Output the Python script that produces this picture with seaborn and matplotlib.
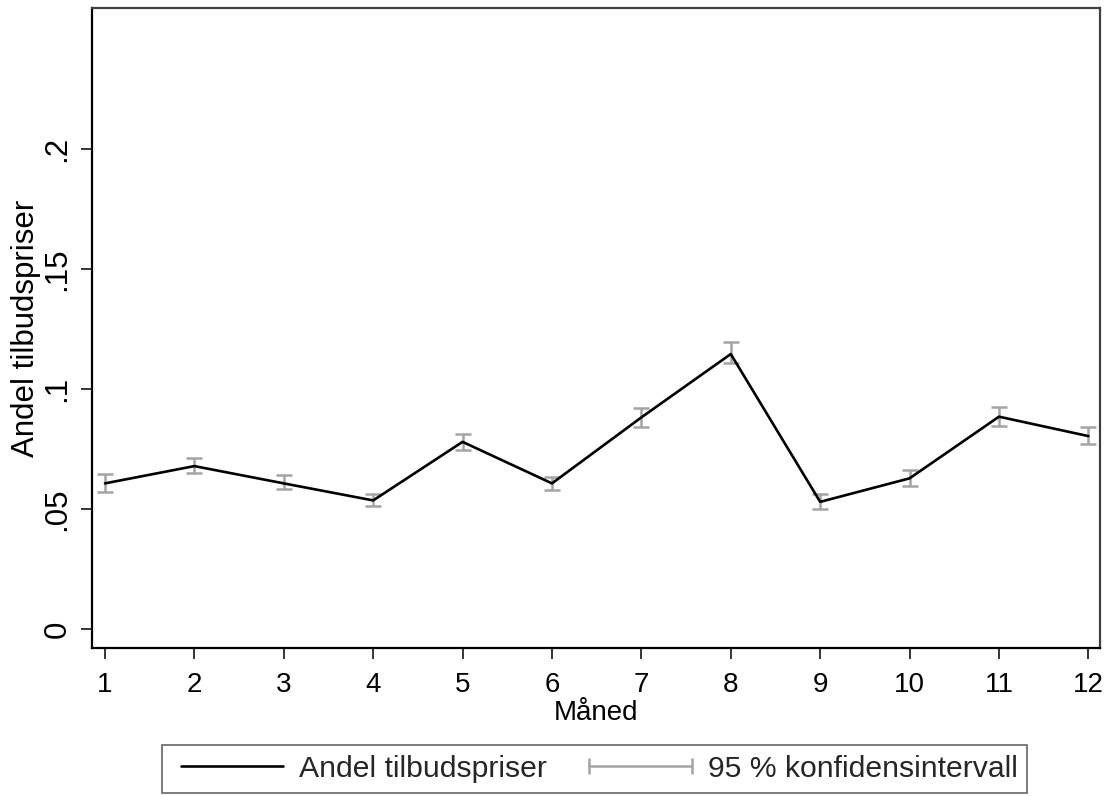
import numpy as np
import pandas as pd
import seaborn as sns
import matplotlib
matplotlib.use("Agg")
import matplotlib.pyplot as plt
from matplotlib.lines import Line2D

# --- data ---
maaned = list(range(1, 13))
andel = [0.0607, 0.0679, 0.0607, 0.0536, 0.0780, 0.0607, 0.0882, 0.1146, 0.0530, 0.0628, 0.0885, 0.0804]
ci_lo = [0.0572, 0.0651, 0.0582, 0.0513, 0.0746, 0.0580, 0.0842, 0.1107, 0.0499, 0.0596, 0.0847, 0.0771]
ci_hi = [0.0646, 0.0713, 0.0640, 0.0563, 0.0814, 0.0635, 0.0922, 0.1197, 0.0563, 0.0663, 0.0926, 0.0843]
y_ticks = [0, 0.05, 0.1, 0.15, 0.2]
y_ticklabels = ["0", ".05", ".1", ".15", ".2"]

df = pd.DataFrame({"Måned": maaned, "andel": andel, "lo": ci_lo, "hi": ci_hi})

sns.set_theme(style="ticks")
plt.rcParams["font.family"] = ["Liberation Sans", "DejaVu Sans"]
fs = 20        # x ticks / x label
fs_leg = 21.7  # legend text
fs_rot = 22.5  # rotated text looks stretched in the original

fig = plt.figure(figsize=(11.04, 7.96), dpi=100)
ax = fig.add_axes([92 / 1104, 1 - 648 / 796, 1008 / 1104, 640 / 796])

# confidence interval caps (grey)
err = np.array([df["andel"] - df["lo"], df["hi"] - df["andel"]])
ax.errorbar(df["Måned"], df["andel"], yerr=err, fmt="none", ecolor="#a4a4a4",
            elinewidth=1.8, capsize=5.5, capthick=1.8, zorder=2)

# the line itself
sns.lineplot(data=df, x="Måned", y="andel", color="black", linewidth=1.9,
             ax=ax, zorder=3, legend=False)

ax.set_xlim(0.855, 12.13)
ax.set_ylim(-0.0079, 0.2588)
ax.set_xticks(maaned)
ax.set_xticklabels([str(m) for m in maaned], fontsize=fs)
ax.set_yticks(y_ticks)
ax.set_yticklabels(y_ticklabels, fontsize=fs_rot, rotation=90, va="center")
ax.tick_params(axis="both", direction="out", length=8, width=1.1, color="black",
               labelcolor="black")
ax.tick_params(axis="x", pad=9)
ax.tick_params(axis="y", pad=6)
ax.set_xlabel("Måned", fontsize=fs, labelpad=2, color="black")
ax.set_ylabel("Andel tilbudspriser", fontsize=fs_rot, labelpad=1, color="black")

for side in ["left", "bottom"]:
    ax.spines[side].set_color("black")
    ax.spines[side].set_linewidth(1.6)
for side in ["top", "right"]:
    ax.spines[side].set_visible(True)
    ax.spines[side].set_color("#404040")
    ax.spines[side].set_linewidth(1.6)

handles = [
    Line2D([], [], color="black", linewidth=1.9),
    Line2D([], [], color="#a4a4a4", linewidth=1.8, marker="|", markersize=12,
           markeredgewidth=1.8),
]
labels = ["Andel tilbudspriser", "95 % konfidensintervall"]
leg = fig.legend(handles, labels, loc="upper center", bbox_to_anchor=(594.5 / 1104, 1 - 745 / 796),
                 ncol=2, fontsize=fs_leg, frameon=True, fancybox=False, numpoints=2,
                 handlelength=4.0, handletextpad=0.23, columnspacing=1.1,
                 borderpad=0.33, borderaxespad=0)
leg.get_frame().set_edgecolor("#404040")
leg.get_frame().set_linewidth(1.2)

fig.savefig("out.png", dpi=100, facecolor="white")
